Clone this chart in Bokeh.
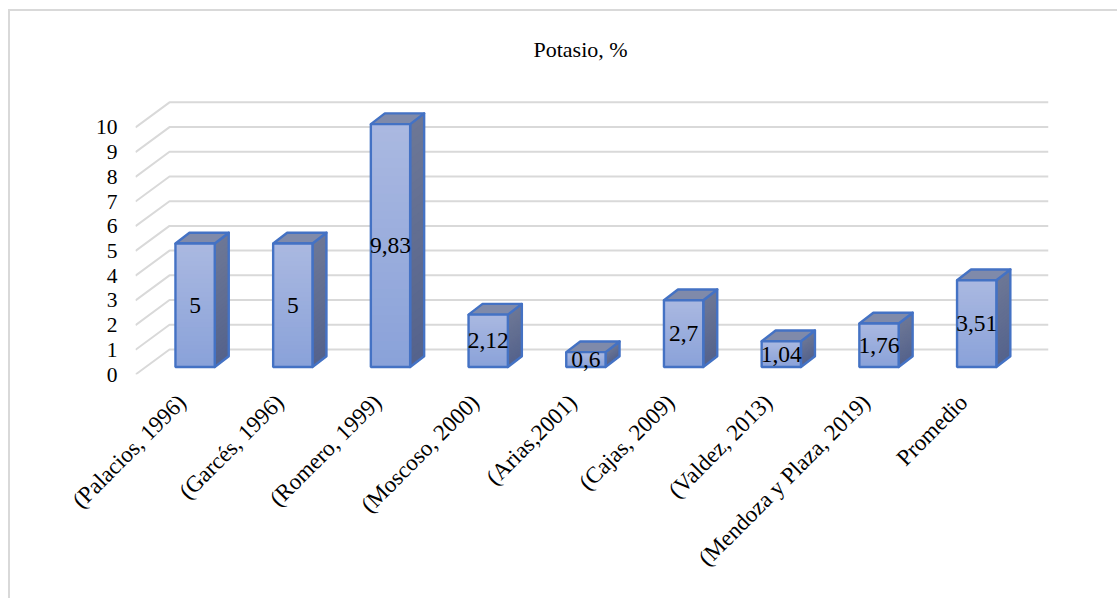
from bokeh.embed import file_html
from bokeh.models import ColumnDataSource, FixedTicker, InlineStyleSheet, LinearAxis, Range1d
from bokeh.plotting import figure
from bokeh.resources import INLINE
from bokeh.core.properties import value
import math

# Chart data
categories = ["(Palacios, 1996)", "(Garcés, 1996)", "(Romero, 1999)", "(Moscoso, 2000)",
              "(Arias,2001)", "(Cajas, 2009)", "(Valdez, 2013)", "(Mendoza y Plaza, 2019)", "Promedio"]
potasio = [5, 5, 9.83, 2.12, 0.6, 2.7, 1.04, 1.76, 3.51]
labels = ["5", "5", "9,83", "2,12", "0,6", "2,7", "1,04", "1,76", "3,51"]
y_ticks = list(range(0, 11))
title_text = "Potasio, %"

# Layout of the page and the pseudo-3D projection, in pixels
W, H = 1117, 598
FRAME_L, FRAME_R, FRAME_T, FRAME_B = 135, 1048, 60, 373.5
PX_PER_UNIT = 24.67
PX_PER_CAT = 97.7
FIRST_BAR_PX = 194.6
WALL_DX, WALL_DY = 34 / PX_PER_CAT, 25 / PX_PER_UNIT      # depth of the side wall
BAR_DX, BAR_DY = 14 / PX_PER_CAT, 10.7 / PX_PER_UNIT      # depth of each column
BASE = 7.5 / PX_PER_UNIT                                  # columns sit inside the floor
HALF = 19.65 / PX_PER_CAT
LABEL_SHIFT = 13 / PX_PER_CAT                             # slanted labels end left of the column centre
STEPS = 28
FONT = "Liberation Serif"
EDGE = "#4472c4"
INK = "#000000"


def mix(a, b, t):
    c = [round(a[i] + (b[i] - a[i]) * t) for i in range(3)]
    return "#%02x%02x%02x" % tuple(c)


x_start = (FRAME_L - FIRST_BAR_PX) / PX_PER_CAT
x_end = (FRAME_R - FIRST_BAR_PX) / PX_PER_CAT

p = figure(width=W, height=H, output_backend="svg", toolbar_location=None,
           x_range=Range1d(x_start, x_end),
           y_range=Range1d(0, (FRAME_B - FRAME_T) / PX_PER_UNIT),
           x_axis_type=None,
           min_border_left=FRAME_L, min_border_right=W - FRAME_R,
           min_border_top=FRAME_T, min_border_bottom=round(H - FRAME_B),
           title=title_text, background_fill_color="white", border_fill_color="white")
p.outline_line_color = None
p.grid.visible = False

p.title.text_font = FONT
p.title.text_font_size = "22px"
p.title.text_font_style = "normal"
p.title.text_color = INK
p.title.align = "left"
p.title.offset = 533 - FRAME_L
p.title.standoff = -3

# Chart-area border, running off the right and bottom of the page
p.stylesheets = [InlineStyleSheet(css="""
:host::after {
  content: ""; position: absolute; left: 8px; top: 9px; right: 0; bottom: 0;
  border-left: 2px solid #d9d9d9; border-top: 2px solid #d9d9d9;
  pointer-events: none;
}
""")]

# Value axis
p.yaxis.ticker = FixedTicker(ticks=y_ticks)
p.yaxis.axis_line_color = None
p.yaxis.major_tick_line_color = None
p.yaxis.minor_tick_line_color = None
p.yaxis.major_label_standoff = 12
p.yaxis.major_label_text_font = FONT
p.yaxis.major_label_text_font_size = "21.5px"
p.yaxis.major_label_text_color = INK

# Category axis with slanted labels, on a range offset from the columns
p.extra_x_ranges = {"cats": Range1d(x_start + LABEL_SHIFT, x_end + LABEL_SHIFT)}
cat_axis = LinearAxis(x_range_name="cats", ticker=FixedTicker(ticks=list(range(len(categories)))),
                      major_label_overrides={i: c for i, c in enumerate(categories)},
                      major_label_orientation=math.pi / 4,
                      axis_line_color=None, major_tick_line_color=None, minor_tick_line_color=None,
                      major_label_standoff=18, major_label_text_font=FONT,
                      major_label_text_font_size="23px", major_label_text_color=INK)
p.add_layout(cat_axis, "below")

# Gridlines: slanted across the side wall, then level along the back wall
x_front, x_back = x_start, x_start + WALL_DX
grid_xs = [[x_front, x_back, x_end] for _ in y_ticks]
grid_ys = [[v, v + WALL_DY, v + WALL_DY] for v in y_ticks]
p.multi_line(grid_xs, grid_ys, line_color="#d9d9d9", line_width=2)

# Columns, drawn front face last so its edge lies on top of the side face
for i, v in enumerate(potasio):
    l, r, b, t = i - HALF, i + HALF, BASE, BASE + v

    # side face: colour darkens towards the floor
    for k in range(STEPS):
        f = k / STEPS
        yb = b + (t - b) * f
        p.patch([r, r + BAR_DX, r + BAR_DX, r],
                [yb, yb + BAR_DY, t + BAR_DY, t],
                fill_color=mix((0x55, 0x63, 0x8c), (0x6e, 0x78, 0x96), f), line_color=None)
    p.patch([r, r + BAR_DX, r + BAR_DX, r], [b, b + BAR_DY, t + BAR_DY, t],
            fill_color=None, line_color=EDGE, line_width=2.4, line_join="round")

    # top face
    p.patch([l, l + BAR_DX, r + BAR_DX, r], [t, t + BAR_DY, t + BAR_DY, t],
            fill_color="#7f8aaa", line_color=EDGE, line_width=2.4, line_join="round")

    # front face: colour lightens towards the top
    for k in range(STEPS):
        f = k / STEPS
        p.quad(left=l, right=r, bottom=b + (t - b) * f, top=t,
               fill_color=mix((0x8a, 0xa2, 0xd9), (0xab, 0xb9, 0xe1), f), line_color=None)
    p.quad(left=l, right=r, bottom=b, top=t, fill_color=None, line_color=EDGE, line_width=2.4)

# Value labels in the middle of each column
src = ColumnDataSource(dict(x=list(range(len(potasio))),
                            y=[BASE + v / 2 for v in potasio], text=labels))
p.text("x", "y", text="text", source=src, text_font=value(FONT), text_font_size="23.5px",
       text_align="center", text_baseline="middle", text_color=INK)

open("out.html", "w").write(file_html(p, INLINE))
